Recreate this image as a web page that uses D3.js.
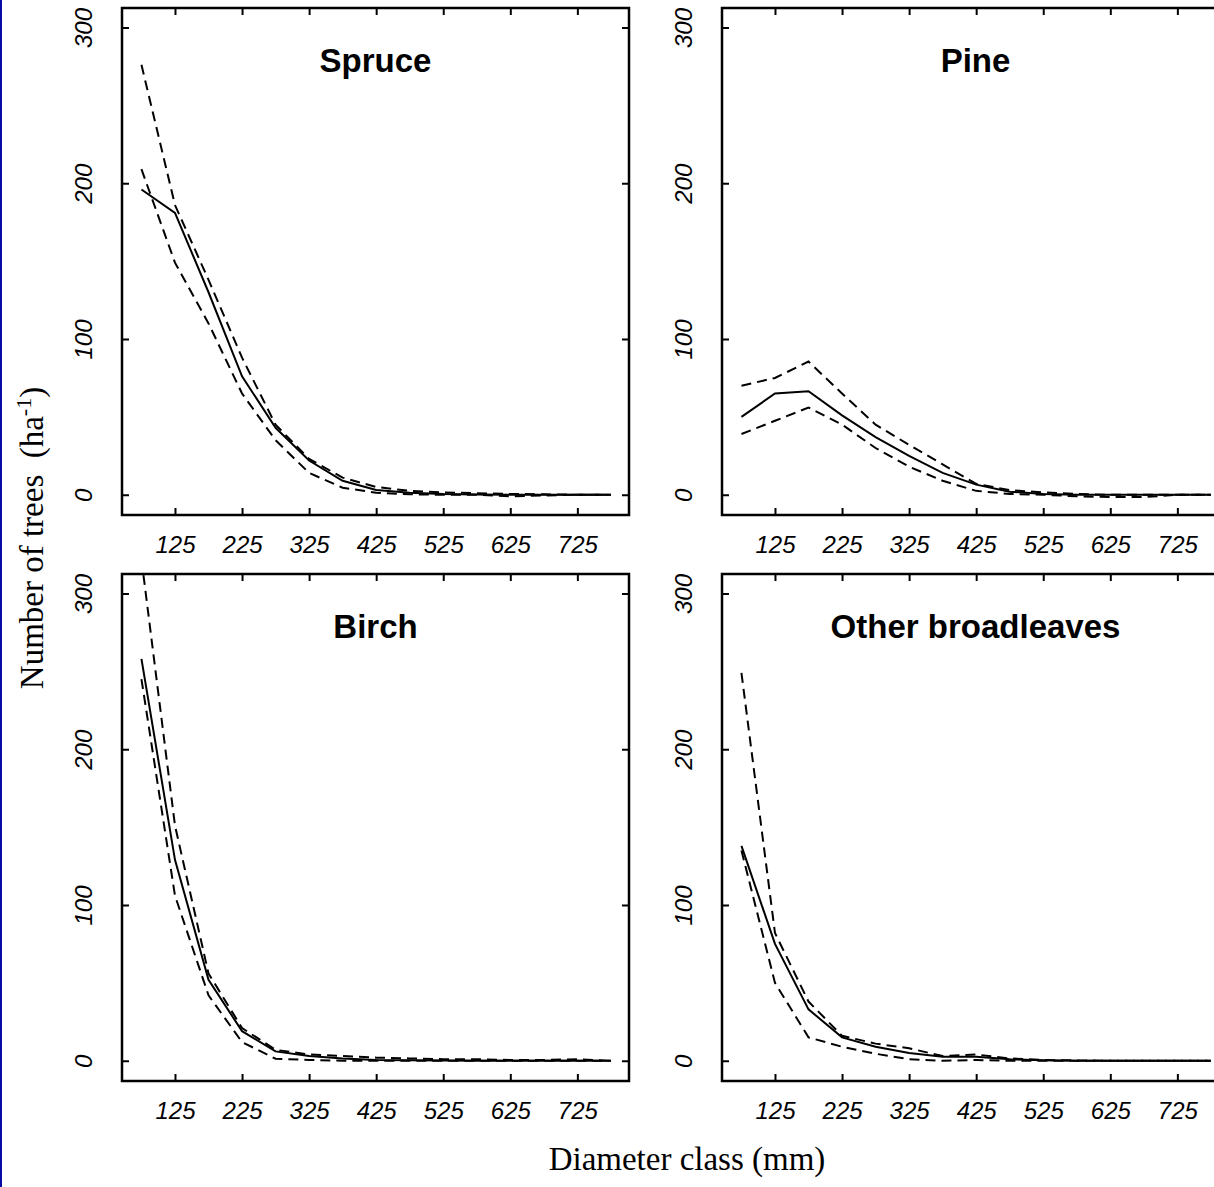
<!DOCTYPE html>
<html lang="en">
<head>
    <meta charset="UTF-8">
    <title>Diameter distributions</title>
    <script src="https://cdn.jsdelivr.net/npm/d3@7"></script>
    <style>
        body { margin: 0; background: #fff; }
        .tick line { stroke: #000; stroke-width: 2px; }
        .ticklab { font-family: "Liberation Sans", Arial, sans-serif; font-style: italic; font-size: 24px; fill: #000; }
        .ptitle { font-family: "Liberation Sans", Arial, sans-serif; font-weight: bold; font-size: 33px; }
        .atitle { font-family: "Liberation Serif", "Times New Roman", serif; font-size: 33px; }
    </style>
</head>
<body>
    <script>
        // diameter class midpoints (mm)
        var diameters = [75, 125, 175, 225, 275, 325, 375, 425, 475, 525, 575, 625, 675, 725, 775];
        var xTicks = [125, 225, 325, 425, 525, 625, 725];
        var yTicks = [0, 100, 200, 300];
        var species = ["Spruce", "Pine", "Birch", "Other broadleaves"];

        // trees per ha: mean (solid) and upper / lower limits (dashed)
        var spruceMean  = [196, 181, 130, 76, 43, 22, 9, 3, 1.3, 0.5, 0.2, 0, 0, 0, 0];
        var spruceUpper = [276, 186, 138, 88, 45, 23, 11, 5, 2.5, 1.5, 1, 0.5, 0.3, 0, 0];
        var spruceLower = [209, 149, 110, 65, 35, 14, 4.5, 1.3, 0.3, 0, 0, -1, -0.5, 0, 0];

        var pineMean  = [50, 65, 66.5, 51, 37, 25, 14, 6.5, 2, 0.5, 0, 0, 0, 0, 0];
        var pineUpper = [70, 75, 85.5, 65, 45, 32, 19.5, 7, 3, 1.5, 0.5, 0, 0, 0, 0];
        var pineLower = [39, 47.5, 56, 45, 30, 18, 9, 2.5, 0.5, 0, -1, -1.5, -1.5, 0, 0];

        var birchMean  = [258, 129, 52, 19, 6, 3, 1.5, 0.5, 0.3, 0.2, 0, 0, 0, 0, 0];
        var birchUpper = [322, 151, 56, 21, 7, 4, 3, 2, 1.5, 1, 1, 0.5, 0.5, 1, 0];
        var birchLower = [245, 106, 42, 12, 1.3, 0.5, 0, 0, 0, 0, 0, 0, 0, 0, 0];

        var otherMean  = [138, 75, 33, 15, 9, 5, 2.5, 2.5, 1, 0.3, 0, 0, 0, 0, 0];
        var otherUpper = [249, 82, 38, 16, 11, 8, 3, 4, 1.5, 0.5, 0.2, 0, 0, 0, 0];
        var otherLower = [135, 50, 15, 9, 4.5, 1, 0, 0.5, 0, 0, 0, 0, 0, 0, 0];

        var panels = [
            {name: species[0], left: 122, top: 8,   mean: spruceMean, upper: spruceUpper, lower: spruceLower},
            {name: species[1], left: 722, top: 8,   mean: pineMean,   upper: pineUpper,   lower: pineLower},
            {name: species[2], left: 122, top: 574, mean: birchMean,  upper: birchUpper,  lower: birchLower},
            {name: species[3], left: 722, top: 574, mean: otherMean,  upper: otherUpper,  lower: otherLower}
        ];

        var pw = 507, ph = 507;

        var svg = d3.select("body").append("svg")
            .attr("width", 1214)
            .attr("height", 1187);

        svg.append("rect").attr("width", 1214).attr("height", 1187).attr("fill", "#fff");
        svg.append("rect").attr("x", 0).attr("y", 0).attr("width", 2).attr("height", 1187).attr("fill", "#0a0aa6");  // blue edge

        var x = d3.scaleLinear().domain([46, 802]).range([0, pw]);
        var y = d3.scaleLinear().domain([-13, 312.5]).range([ph, 0]);

        var line = d3.line()
            .x(function(d){ return x(d[0]); })
            .y(function(d){ return y(d[1]); });

        panels.forEach(function(p, i){
            var g = svg.append("g").attr("transform", "translate(" + p.left + "," + p.top + ")");

            g.append("clipPath").attr("id", "clip" + i)
                .append("rect").attr("width", pw).attr("height", ph);

            // ticks on all four sides, pointing inward
            g.append("g").attr("transform", "translate(0," + ph + ")")
                .call(d3.axisBottom(x).tickValues(xTicks).tickSizeInner(-7).tickSizeOuter(0).tickPadding(21))
                .call(function(a){ a.select(".domain").remove(); a.selectAll("text").attr("class", "ticklab").attr("fill", null); });
            g.append("g")
                .call(d3.axisTop(x).tickValues(xTicks).tickSizeInner(-7).tickSizeOuter(0).tickFormat(""))
                .call(function(a){ a.select(".domain").remove(); });
            g.append("g")
                .call(d3.axisLeft(y).tickValues(yTicks).tickSizeInner(-7).tickSizeOuter(0))
                .call(function(a){
                    a.select(".domain").remove();
                    a.selectAll("text")
                        .attr("class", "ticklab").attr("fill", null)
                        .attr("x", 0).attr("dy", 0)
                        .attr("text-anchor", "middle")
                        .attr("transform", "translate(-30,0) rotate(-90)");
                });
            g.append("g").attr("transform", "translate(" + pw + ",0)")
                .call(d3.axisRight(y).tickValues(yTicks).tickSizeInner(-7).tickSizeOuter(0).tickFormat(""))
                .call(function(a){ a.select(".domain").remove(); });

            g.append("rect")
                .attr("width", pw).attr("height", ph)
                .attr("fill", "none").attr("stroke", "#000").attr("stroke-width", 2.5);

            var lines = g.append("g").attr("clip-path", "url(#clip" + i + ")");
            [p.upper, p.lower].forEach(function(vals){
                lines.append("path")
                    .attr("d", line(d3.zip(diameters, vals)))
                    .attr("fill", "none").attr("stroke", "#000")
                    .attr("stroke-width", 2).attr("stroke-dasharray", "10,6");
            });
            lines.append("path")
                .attr("d", line(d3.zip(diameters, p.mean)))
                .attr("fill", "none").attr("stroke", "#000").attr("stroke-width", 2);

            g.append("text").attr("class", "ptitle")
                .attr("x", pw / 2).attr("y", 64)
                .attr("text-anchor", "middle")
                .text(p.name);
        });

        // shared axis titles
        svg.append("text").attr("class", "atitle")
            .attr("x", 687).attr("y", 1170)
            .attr("text-anchor", "middle")
            .text("Diameter class (mm)");

        var yl = svg.append("text").attr("class", "atitle")
            .attr("text-anchor", "middle")
            .attr("transform", "translate(43,538) rotate(-90)")
            .attr("xml:space", "preserve");
        yl.append("tspan").text("Number of trees  (ha");
        yl.append("tspan").attr("dy", -12).attr("font-size", 22).text("-1");
        yl.append("tspan").attr("dy", 12).text(")");
    </script>
</body>
</html>
